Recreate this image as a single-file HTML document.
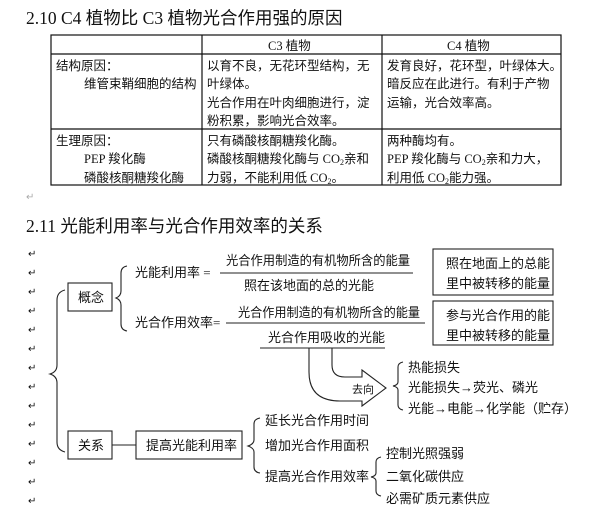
<!DOCTYPE html>
<html><head><meta charset="utf-8"><style>
html,body{margin:0;padding:0;background:#fff;width:604px;height:510px;overflow:hidden}
svg{display:block}
text{font-family:"Liberation Serif","Noto Sans CJK SC",sans-serif;fill:#111}
.t{font-size:12.5px}
.s{font-size:13px}
.h{font-size:17.5px}
.m{fill:#aaa;font-size:10px}
</style></head><body>
<svg width="604" height="510" viewBox="0 0 604 510" xmlns="http://www.w3.org/2000/svg">
<text class="h" x="26" y="24">2.10 C4 植物比 C3 植物光合作用强的原因</text>
<g fill="none" stroke="#111" stroke-width="1.2">
<rect x="51" y="35" width="510" height="150"/>
<line x1="51" y1="54" x2="561" y2="54"/>
<line x1="51" y1="129" x2="561" y2="129"/>
<line x1="202" y1="35" x2="202" y2="185"/>
<line x1="382" y1="35" x2="382" y2="185"/>
</g>
<g class="t">
<text x="268" y="50">C3 植物</text>
<text x="447" y="50">C4 植物</text>
<text x="56" y="70">结构原因：</text>
<text x="84" y="88">维管束鞘细胞的结构</text>
<text x="207" y="70">以育不良，无花环型结构，无</text>
<text x="207" y="88">叶绿体。</text>
<text x="207" y="107">光合作用在叶肉细胞进行，淀</text>
<text x="207" y="125">粉积累，影响光合效率。</text>
<text x="387" y="70">发育良好，花环型，叶绿体大。</text>
<text x="387" y="88">暗反应在此进行。有利于产物</text>
<text x="387" y="107">运输，光合效率高。</text>
<text x="56" y="145">生理原因：</text>
<text x="84" y="163">PEP 羧化酶</text>
<text x="84" y="182">磷酸核酮糖羧化酶</text>
<text x="207" y="145">只有磷酸核酮糖羧化酶。</text>
<text x="207" y="163">磷酸核酮糖羧化酶与 CO<tspan font-size="8" dy="2">2</tspan><tspan dy="-2">亲和</tspan></text>
<text x="207" y="182">力弱，不能利用低 CO<tspan font-size="8" dy="2">2</tspan><tspan dy="-2">。</tspan></text>
<text x="387" y="145">两种酶均有。</text>
<text x="387" y="163">PEP 羧化酶与 CO<tspan font-size="8" dy="2">2</tspan><tspan dy="-2">亲和力大，</tspan></text>
<text x="387" y="182">利用低 CO<tspan font-size="8" dy="2">2</tspan><tspan dy="-2">能力强。</tspan></text>
</g>
<text class="m" x="26" y="200">↵</text>
<text class="h" x="26" y="232">2.11 光能利用率与光合作用效率的关系</text>
<g class="m">
<text x="28" y="257">↵</text><text x="28" y="276">↵</text><text x="28" y="295">↵</text><text x="28" y="314">↵</text>
<text x="28" y="333">↵</text><text x="28" y="352">↵</text><text x="28" y="371">↵</text><text x="28" y="390">↵</text>
<text x="28" y="409">↵</text><text x="28" y="428">↵</text><text x="28" y="447">↵</text><text x="28" y="466">↵</text>
<text x="28" y="485">↵</text><text x="28" y="504">↵</text>
</g>
<g fill="none" stroke="#222" stroke-width="1.1">
<rect x="68" y="283" width="44" height="28"/>
<rect x="68" y="431" width="44" height="28"/>
<rect x="136" y="431" width="106" height="28"/>
<line x1="112" y1="445" x2="136" y2="445"/>
<rect x="433" y="249" width="120" height="46"/>
<rect x="433" y="301" width="120" height="44"/>
<path d="M65,290 Q57,292 57,300 L57,365 Q57,372 50,374 Q57,376 57,383 L57,442 Q57,450 65,452"/>
<path d="M127,266 Q121,267 121,273 L121,291 Q121,296 116,298 Q121,300 121,305 L121,324 Q121,330 127,331"/>
<path d="M260,418 Q254,419 254,424 L254,440 Q254,444 248,446 Q254,448 254,452 L254,467 Q254,472 260,473"/>
<path d="M381,457 Q376,458 376,462 L376,473 Q376,476 371,477 Q376,478 376,481 L376,491 Q376,495 381,496"/>
<path d="M403,362 Q398,363 398,367 L398,382 Q398,385 393,386 Q398,387 398,390 L398,405 Q398,409 403,410"/>
<line x1="220" y1="273" x2="413" y2="273"/>
<line x1="226" y1="323" x2="425" y2="323"/>
<line x1="260" y1="348" x2="385" y2="348"/>
<path d="M309,348 L332,348 L332,365 Q332,377 345,377 L362,377 L362,370 L386,388 L362,406 L362,401 L340,401 Q309,401 309,372 Z" fill="#fff"/>
</g>
<g class="s">
<text x="135" y="277">光能利用率 =</text>
<text x="226" y="265" textLength="184" lengthAdjust="spacingAndGlyphs">光合作用制造的有机物所含的能量</text>
<text x="244" y="290">照在该地面的总的光能</text>
<text x="446" y="268">照在地面上的总能</text>
<text x="446" y="288">里中被转移的能量</text>
<text x="135" y="327">光合作用效率=</text>
<text x="238" y="317" textLength="182" lengthAdjust="spacingAndGlyphs">光合作用制造的有机物所含的能量</text>
<text x="268" y="342">光合作用吸收的光能</text>
<text x="446" y="320">参与光合作用的能</text>
<text x="446" y="340">里中被转移的能量</text>
<text x="78" y="302">概念</text>
<text x="78" y="450">关系</text>
<text x="146" y="450">提高光能利用率</text>
<text x="352" y="393" font-size="11">去向</text>
<text x="408" y="372">热能损失</text>
<text x="408" y="392">光能损失→荧光、磷光</text>
<text x="408" y="413">光能→电能→化学能（贮存）</text>
<text x="265" y="425">延长光合作用时间</text>
<text x="265" y="450">增加光合作用面积</text>
<text x="265" y="481">提高光合作用效率</text>
<text x="386" y="458">控制光照强弱</text>
<text x="386" y="481">二氧化碳供应</text>
<text x="386" y="503">必需矿质元素供应</text>
</g>
</svg>
</body></html>
